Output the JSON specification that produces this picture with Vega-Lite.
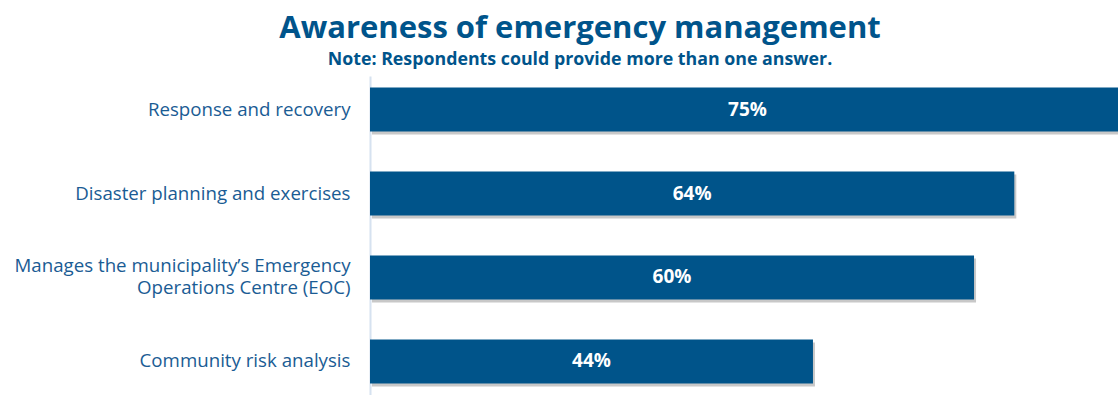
{
  "$schema": "https://vega.github.io/schema/vega-lite/v6.json",
  "width": 748,
  "height": 319,
  "autosize": {"type": "none"},
  "padding": {"left": 370, "top": 76, "right": 0, "bottom": 0},
  "background": "white",
  "title": {
    "text": "Awareness of emergency management",
    "subtitle": "Note: Respondents could provide more than one answer.",
    "anchor": "middle",
    "dx": -164,
    "offset": 6,
    "font": "Open Sans",
    "fontSize": 31,
    "fontWeight": "bold",
    "color": "#00548B",
    "subtitleFont": "Open Sans",
    "subtitleFontSize": 17.8,
    "subtitleFontWeight": "bold",
    "subtitleColor": "#00548B",
    "subtitlePadding": 6
  },
  "config": {"view": {"stroke": null}},
  "data": {
    "values": [
      {"category": "Response and recovery", "value": 0.75},
      {"category": "Disaster planning and exercises", "value": 0.64},
      {"category": "Manages the municipality’s Emergency Operations Centre (EOC)", "value": 0.60},
      {"category": "Community risk analysis", "value": 0.44}
    ]
  },
  "encoding": {
    "y": {
      "field": "category",
      "type": "nominal",
      "sort": null,
      "scale": {"paddingInner": 0.476, "paddingOuter": 0.137},
      "axis": {
        "title": null,
        "ticks": false,
        "labelPadding": 20,
        "labelFont": "Open Sans",
        "labelFontSize": 18.7,
        "labelColor": "#1A5C94",
        "labelLimit": 400,
        "labelLineHeight": 22,
        "labelOffset": {"condition": {"test": "datum.value == 'Manages the municipality’s Emergency Operations Centre (EOC)'", "value": -11}, "value": 0},
        "domainColor": "#D6E2F0",
        "domainWidth": 2,
        "labelExpr": "datum.value == 'Manages the municipality’s Emergency Operations Centre (EOC)' ? ['Manages the municipality’s Emergency', 'Operations Centre (EOC)'] : datum.value"
      }
    }
  },
  "layer": [
    {
      "mark": {"type": "bar", "color": "#9a9a9a", "opacity": 0.55, "xOffset": 2, "yOffset": 3, "clip": true},
      "encoding": {
        "x": {"field": "value", "type": "quantitative", "scale": {"domain": [0, 0.743], "nice": false}, "axis": null}
      }
    },
    {
      "mark": {"type": "bar", "color": "#00548A", "clip": true},
      "encoding": {
        "x": {"field": "value", "type": "quantitative", "scale": {"domain": [0, 0.743], "nice": false}, "axis": null}
      }
    },
    {
      "mark": {"type": "text", "color": "white", "font": "Open Sans", "fontSize": 19, "fontWeight": "bold", "align": "center", "baseline": "middle"},
      "encoding": {
        "x": {"field": "value", "type": "quantitative", "scale": {"domain": [0, 1.486], "nice": false}, "axis": null},
        "text": {"field": "value", "type": "quantitative", "format": ".0%"}
      }
    }
  ],
  "resolve": {"scale": {"x": "independent"}}
}
